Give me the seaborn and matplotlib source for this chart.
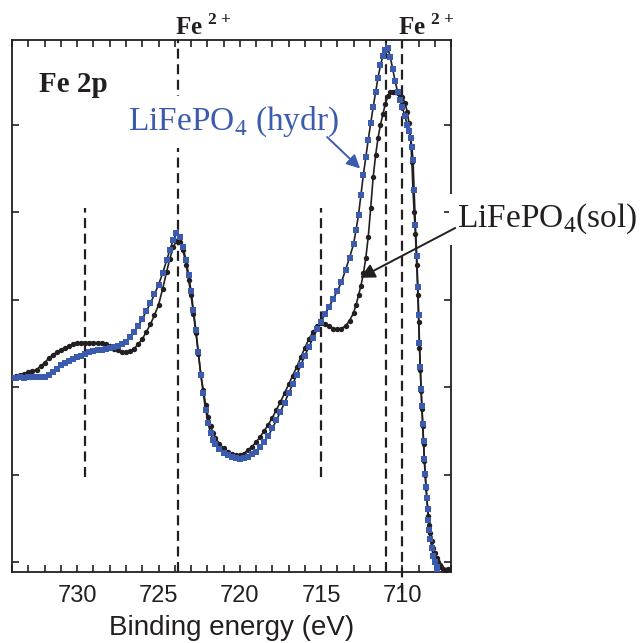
import matplotlib
matplotlib.use('Agg')
import matplotlib.pyplot as plt
from matplotlib.ticker import MultipleLocator
import seaborn as sns

# Fe 2p XPS, LiFePO4 hydrothermal vs solid state
energy_hydr = [734.0, 733.75, 733.5, 733.25, 733.0, 732.75, 732.5, 732.25, 732.0, 731.75,
               731.5, 731.25, 731.0, 730.75, 730.5, 730.25, 730.0, 729.75, 729.5, 729.25,
               729.0, 728.75, 728.5, 728.25, 728.0, 727.75, 727.5, 727.25, 727.0, 726.75,
               726.5, 726.25, 726.0, 725.75, 725.5, 725.25, 725.0, 724.75, 724.5, 724.3,
               724.1, 723.9, 723.7, 723.5, 723.3, 723.15, 723.0, 722.85, 722.7, 722.55,
               722.4, 722.25, 722.1, 721.95, 721.8, 721.65, 721.5, 721.25, 721.0, 720.75,
               720.5, 720.25, 720.0, 719.75, 719.5, 719.25, 719.0, 718.75, 718.5, 718.25,
               718.0, 717.75, 717.5, 717.25, 717.0, 716.75, 716.5, 716.25, 716.0, 715.75,
               715.5, 715.25, 715.0, 714.75, 714.5, 714.25, 714.0, 713.75, 713.5, 713.25,
               713.0, 712.85, 712.7, 712.55, 712.4, 712.25, 712.1, 711.95, 711.8, 711.65,
               711.5, 711.35, 711.2, 711.05, 710.9, 710.75, 710.6, 710.45, 710.3, 710.15,
               710.0, 709.85, 709.7, 709.6, 709.5, 709.42, 709.35, 709.28, 709.2, 709.12,
               709.05, 709.0, 708.95, 708.9, 708.85, 708.8, 708.75, 708.7, 708.65, 708.6,
               708.55, 708.5, 708.45, 708.4, 708.35, 708.28, 708.2, 708.1, 708.0, 707.9,
               707.85]
int_hydr = [2.10, 2.10, 2.11, 2.10, 2.11, 2.12, 2.11, 2.12, 2.12, 2.14,
            2.17, 2.21, 2.25, 2.27, 2.30, 2.32, 2.34, 2.36, 2.38, 2.40,
            2.41, 2.42, 2.43, 2.44, 2.45, 2.46, 2.47, 2.49, 2.52, 2.57,
            2.63, 2.70, 2.78, 2.87, 2.96, 3.06, 3.17, 3.30, 3.45, 3.57,
            3.68, 3.76, 3.72, 3.60, 3.45, 3.28, 3.10, 2.88, 2.65, 2.40,
            2.14, 1.93, 1.74, 1.59, 1.47, 1.40, 1.35, 1.29, 1.25, 1.22,
            1.20, 1.19, 1.18, 1.19, 1.20, 1.23, 1.26, 1.31, 1.37, 1.44,
            1.53, 1.62, 1.72, 1.82, 1.93, 2.03, 2.14, 2.25, 2.36, 2.46,
            2.56, 2.66, 2.75, 2.84, 2.92, 3.01, 3.10, 3.20, 3.34, 3.48,
            3.64, 3.80, 3.97, 4.20, 4.43, 4.63, 4.83, 5.02, 5.20, 5.37,
            5.54, 5.68, 5.79, 5.86, 5.88, 5.78, 5.64, 5.50, 5.38, 5.28,
            5.20, 5.10, 5.00, 4.93, 4.85, 4.75, 4.60, 4.25, 3.85, 3.50,
            3.15, 2.82, 2.50, 2.23, 1.98, 1.78, 1.58, 1.38, 1.18, 1.01,
            0.86, 0.73, 0.60, 0.48, 0.37, 0.26, 0.16, 0.07, 0.00, -0.06,
            -0.08]

energy_sol = [734.0, 733.75, 733.5, 733.25, 733.0, 732.75, 732.5, 732.25, 732.0, 731.75,
              731.5, 731.25, 731.0, 730.75, 730.5, 730.25, 730.0, 729.75, 729.5, 729.25,
              729.0, 728.75, 728.5, 728.25, 728.0, 727.75, 727.5, 727.25, 727.0, 726.75,
              726.5, 726.25, 726.0, 725.75, 725.5, 725.25, 725.0, 724.75, 724.5, 724.3,
              724.1, 723.9, 723.7, 723.5, 723.3, 723.15, 723.0, 722.85, 722.7, 722.55,
              722.4, 722.25, 722.1, 721.95, 721.8, 721.65, 721.5, 721.25, 721.0, 720.75,
              720.5, 720.25, 720.0, 719.75, 719.5, 719.25, 719.0, 718.75, 718.5, 718.25,
              718.0, 717.75, 717.5, 717.25, 717.0, 716.75, 716.5, 716.25, 716.0, 715.75,
              715.5, 715.25, 715.0, 714.75, 714.5, 714.25, 714.0, 713.75, 713.5, 713.25,
              713.0, 712.85, 712.7, 712.55, 712.4, 712.25, 712.1, 711.95, 711.8, 711.65,
              711.5, 711.35, 711.2, 711.05, 710.9, 710.75, 710.6, 710.45, 710.3, 710.15,
              710.0, 709.85, 709.7, 709.6, 709.5, 709.42, 709.35, 709.28, 709.2, 709.12,
              709.05, 709.0, 708.95, 708.9, 708.85, 708.8, 708.75, 708.7, 708.65, 708.6,
              708.55, 708.5, 708.45, 708.4, 708.35, 708.28, 708.2, 708.1, 708.0, 707.9,
              707.8, 707.7, 707.6, 707.5, 707.4, 707.3, 707.2]
int_sol = [2.12, 2.13, 2.14, 2.15, 2.17, 2.18, 2.20, 2.24, 2.28, 2.33,
           2.37, 2.40, 2.43, 2.45, 2.47, 2.49, 2.50, 2.51, 2.51, 2.51,
           2.51, 2.51, 2.50, 2.49, 2.47, 2.44, 2.42, 2.40, 2.40, 2.41,
           2.44, 2.49, 2.55, 2.63, 2.72, 2.82, 2.94, 3.12, 3.32, 3.47,
           3.60, 3.67, 3.66, 3.57, 3.40, 3.23, 3.05, 2.84, 2.62, 2.38,
           2.15, 1.97, 1.80, 1.66, 1.55, 1.48, 1.42, 1.35, 1.30, 1.26,
           1.23, 1.22, 1.22, 1.24, 1.28, 1.32, 1.37, 1.43, 1.50, 1.57,
           1.65, 1.74, 1.83, 1.93, 2.03, 2.13, 2.23, 2.34, 2.45, 2.55,
           2.63, 2.70, 2.73, 2.72, 2.70, 2.67, 2.66, 2.67, 2.70, 2.76,
           2.85, 2.94, 3.05, 3.16, 3.30, 3.48, 3.72, 4.05, 4.40, 4.65,
           4.85, 5.00, 5.12, 5.24, 5.33, 5.37, 5.38, 5.38, 5.36, 5.34,
           5.32, 5.25, 5.15, 5.02, 4.85, 4.58, 4.25, 4.00, 3.75, 3.40,
           3.05, 2.75, 2.45, 2.20, 1.95, 1.75, 1.55, 1.35, 1.15, 1.00,
           0.85, 0.73, 0.62, 0.52, 0.42, 0.33, 0.24, 0.16, 0.10, 0.04,
           0.00, -0.03, -0.06, -0.08, -0.09, -0.09, -0.08]

# reference lines (position, bottom, top)
ref_pos = [729.5, 723.8, 715.0, 711.0, 710.0]
ref_lo = [0.97, -0.115, 0.97, -0.115, -0.35]
ref_hi = [4.05, 5.97, 4.05, 5.97, 5.97]
fe2_pos = [724.0, 710.25]

dark = '#231f20'
blue = '#3b5cae'

sns.set_style('ticks')
plt.rcParams['font.family'] = ['Liberation Sans', 'DejaVu Sans']
plt.rcParams['mathtext.fontset'] = 'custom'
plt.rcParams['mathtext.rm'] = 'Liberation Serif'
plt.rcParams['mathtext.bf'] = 'Liberation Serif:bold'

fig = plt.figure(figsize=(6.4, 6.43), dpi=100)
ax = fig.add_axes([0.019, 0.1104, 0.686, 0.8274])

for e, lo, hi in zip(ref_pos, ref_lo, ref_hi):
    ax.plot([e, e], [lo, hi], color=dark, lw=1.6, ls=(0, (4.5, 2.5)),
            clip_on=False, zorder=1)

sns.lineplot(x=energy_sol, y=int_sol, sort=False, color=dark, lw=1.2, ax=ax, zorder=2)
sns.scatterplot(x=energy_sol, y=int_sol, color=dark, s=15, linewidth=0, ax=ax, zorder=2)
sns.lineplot(x=energy_hydr, y=int_hydr, sort=False, color=dark, lw=1.2, ax=ax, zorder=3)
sns.scatterplot(x=energy_hydr, y=int_hydr, color=blue, marker='s', s=19, linewidth=0,
                ax=ax, zorder=3)

ax.set_xlim(734, 707)
ax.set_ylim(-0.115, 5.97)
ax.set_xticks([730, 725, 720, 715, 710])
ax.xaxis.set_minor_locator(MultipleLocator(1))
ax.set_yticks(range(6))
ax.set_yticklabels([])
ax.tick_params(which='both', direction='in', top=True, right=True, length=5,
               width=1.2, color=dark, labelsize=17, labelcolor=dark, pad=9)
for s in ax.spines.values():
    s.set_linewidth(1.3)
    s.set_color(dark)
ax.set_xlabel('Binding energy (eV)', fontsize=20, color=dark, labelpad=6)

ax.text(0.062, 0.902, 'Fe 2p', transform=ax.transAxes, family='Liberation Serif',
        weight='bold', fontsize=21, color=dark, va='baseline', zorder=4)
for e in fe2_pos:
    ax.text(e, 1.009, r'Fe $^{\mathbf{2+}}$', transform=ax.get_xaxis_transform(),
            family='Liberation Serif', weight='bold', fontsize=18, color=dark,
            ha='left', va='baseline')

ax.text(726.86, 4.94, r'LiFePO$_4$ (hydr)', family='Liberation Serif', fontsize=24,
        color=blue, va='baseline', zorder=6,
        bbox=dict(facecolor='white', edgecolor='none', pad=6))
ax.annotate('', xy=(712.6, 4.50), xytext=(714.63, 4.86),
            arrowprops=dict(arrowstyle='-|>', color=blue, lw=1.4, mutation_scale=20,
                            shrinkA=0, shrinkB=0), zorder=7)

ax.text(706.63, 3.83, r'LiFePO$_4$(sol)', family='Liberation Serif', fontsize=24,
        color=dark, va='baseline', zorder=6,
        bbox=dict(facecolor='white', edgecolor='none', pad=6))
ax.annotate('', xy=(712.6, 3.25), xytext=(706.75, 3.82), annotation_clip=False,
            arrowprops=dict(arrowstyle='-|>', color=dark, lw=1.4, mutation_scale=22,
                            shrinkA=0, shrinkB=0), zorder=7)

fig.savefig('out.png', dpi=100)
